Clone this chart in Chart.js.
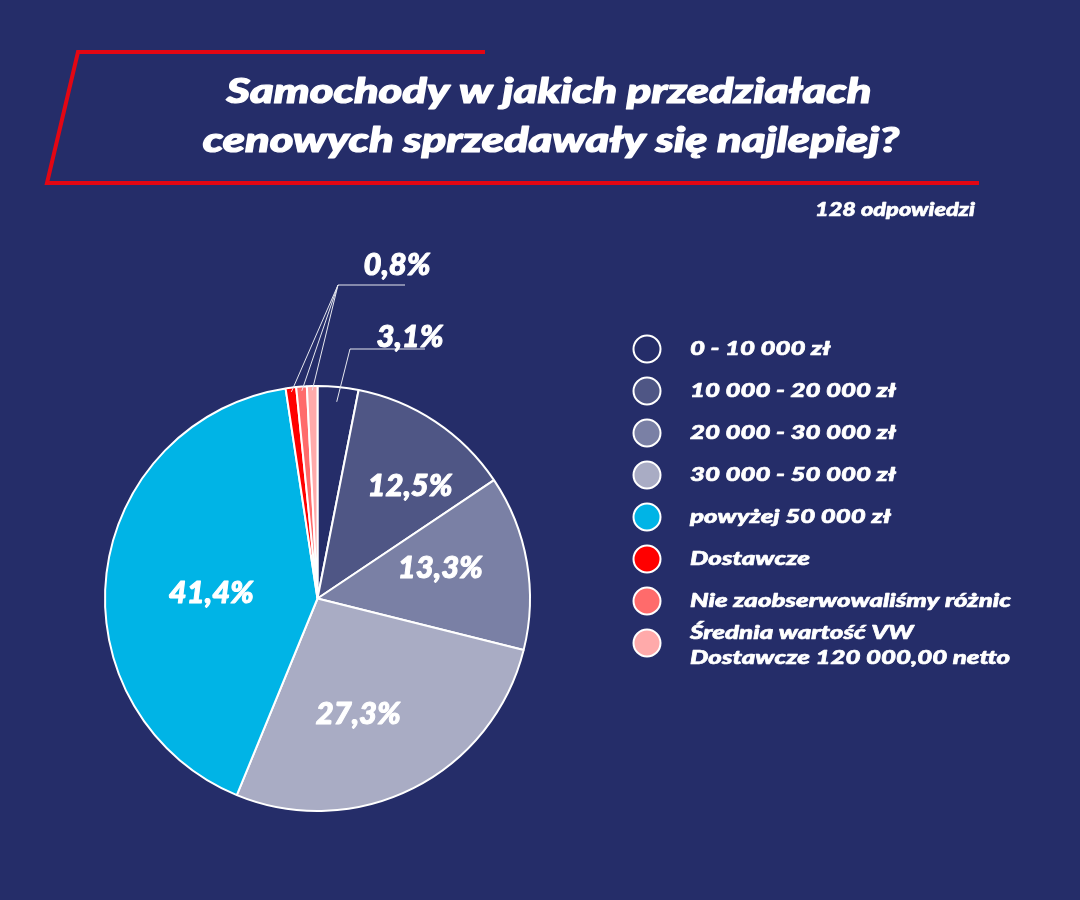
<!DOCTYPE html>
<html>
<head>
<meta charset="utf-8">
<script src="https://cdn.jsdelivr.net/npm/chart.js@4.4.1/dist/chart.umd.min.js"></script>
<style>
    html, body { margin: 0; background: #252d69; }
    canvas { display: block; }
</style>
</head>
<body>
<canvas id="chart" width="1080" height="900"></canvas>
<script>
const categories = [
    '0 - 10 000 zł',
    '10 000 - 20 000 zł',
    '20 000 - 30 000 zł',
    '30 000 - 50 000 zł',
    'powyżej 50 000 zł',
    'Dostawcze',
    'Nie zaobserwowaliśmy różnic',
    'Średnia wartość VW\nDostawcze 120 000,00 netto'
];
const percents = [3.1, 12.5, 13.3, 27.3, 41.4, 0.8, 0.8, 0.8];
const colors = ['#252d69', '#4f5685', '#7a80a5', '#a9acc4', '#00b4e6', '#ff0000', '#ff6b6b', '#ffaaaa'];
const titleLines = ['Samochody w jakich przedziałach', 'cenowych sprzedawały się najlepiej?'];
const subtitle = '128 odpowiedzi';

const BG = '#252d69';
const FONT = 'Lato';

function fmt(v) {
    return v.toFixed(1).replace('.', ',') + '%';
}

function font(size) {
    return `italic 900 ${size}px ${FONT}`;
}

// width factor so the fallback font gets the wide look of the original
function stretch(ctx, sample, target) {
    return target / ctx.measureText(sample).width;
}

function drawText(ctx, text, x, y, sx, bold) {
    ctx.save();
    ctx.translate(x, y);
    ctx.scale(sx, 1);
    ctx.fillText(text, 0, 0);
    ctx.strokeStyle = ctx.fillStyle;
    ctx.lineWidth = bold;
    ctx.lineJoin = 'round';
    ctx.strokeText(text, 0, 0);
    ctx.restore();
}

const decor = {
    id: 'decor',
    beforeDraw(c) {
        const ctx = c.ctx;
        ctx.save();
        ctx.fillStyle = BG;
        ctx.fillRect(0, 0, c.width, c.height);
        ctx.restore();
    },
    afterDraw(c) {
        const ctx = c.ctx;
        const arcs = c.getDatasetMeta(0).data;
        ctx.save();

        // red frame round the title
        ctx.strokeStyle = '#e30613';
        ctx.lineWidth = 4;
        ctx.beginPath();
        ctx.moveTo(485, 52);
        ctx.lineTo(78, 52);
        ctx.lineTo(47, 183);
        ctx.lineTo(979, 183);
        ctx.stroke();

        // title
        ctx.fillStyle = '#fff';
        ctx.textAlign = 'center';
        ctx.textBaseline = 'middle';
        ctx.font = font(35);
        let sx = stretch(ctx, titleLines[0], 645);
        drawText(ctx, titleLines[0], 549, 92, sx, 1.2);
        drawText(ctx, titleLines[1], 551, 141, sx, 1.2);

        ctx.font = font(18);
        ctx.textAlign = 'right';
        drawText(ctx, subtitle, 975, 210, stretch(ctx, subtitle, 160), 0.6);

        // labels inside the big slices: radius fraction and small angle nudge
        ctx.textAlign = 'center';
        ctx.font = font(30);
        sx = stretch(ctx, '12,5%', 85);
        const place = { 1: [0.685, 5.8], 2: [0.595, -3.8], 3: [0.577, 7.4], 4: [0.5, -4.2] };
        [1, 2, 3, 4].forEach(i => {
            const a = arcs[i];
            const ang = (a.startAngle + a.endAngle) / 2 + place[i][1] * Math.PI / 180;
            const r = a.outerRadius * place[i][0];
            drawText(ctx, fmt(percents[i]), a.x + Math.cos(ang) * r, a.y + Math.sin(ang) * r, sx, 1);
        });

        // leader lines for the small slices
        ctx.strokeStyle = '#e6e7ef';
        ctx.lineWidth = 1;
        const a0 = arcs[0];
        const m0 = (a0.startAngle + a0.endAngle) / 2;
        ctx.beginPath();
        ctx.moveTo(a0.x + Math.cos(m0) * a0.outerRadius * 0.93, a0.y + Math.sin(m0) * a0.outerRadius * 0.93);
        ctx.lineTo(350, 349);
        ctx.lineTo(425, 349);
        ctx.stroke();
        drawText(ctx, fmt(percents[0]), 410, 337, sx, 1);

        [5, 6, 7].forEach(i => {
            const a = arcs[i];
            const mid = (a.startAngle + a.endAngle) / 2;
            ctx.beginPath();
            ctx.moveTo(a.x + Math.cos(mid) * a.outerRadius * 0.98, a.y + Math.sin(mid) * a.outerRadius * 0.98);
            ctx.lineTo(338, 285);
            ctx.stroke();
        });
        ctx.beginPath();
        ctx.moveTo(338, 285);
        ctx.lineTo(405, 285);
        ctx.stroke();
        drawText(ctx, fmt(percents[5]), 397, 265, sx, 1);

        // legend
        ctx.textAlign = 'left';
        ctx.font = font(18);
        sx = stretch(ctx, categories[6], 321);
        categories.forEach((name, i) => {
            const y = 349 + i * 42;
            ctx.beginPath();
            ctx.arc(647, y, 13.5, 0, Math.PI * 2);
            ctx.fillStyle = colors[i];
            ctx.fill();
            ctx.strokeStyle = '#fff';
            ctx.lineWidth = 2;
            ctx.stroke();
            ctx.fillStyle = '#fff';
            const lines = name.split('\n');
            lines.forEach((ln, k) => {
                drawText(ctx, ln, 690, (lines.length > 1 ? y - 10 : y) + k * 25, sx, 0.6);
            });
        });

        ctx.restore();
    }
};

new Chart(document.getElementById('chart'), {
    type: 'pie',
    data: {
        labels: categories,
        datasets: [{
            data: percents,
            backgroundColor: colors,
            borderColor: '#ffffff',
            borderWidth: 2
        }]
    },
    options: {
        responsive: false,
        animation: false,
        devicePixelRatio: 1,
        layout: {
            padding: { left: 104, right: 549, top: 385, bottom: 88 }
        },
        plugins: {
            legend: { display: false },
            tooltip: { enabled: false }
        }
    },
    plugins: [decor]
});
</script>
</body>
</html>
